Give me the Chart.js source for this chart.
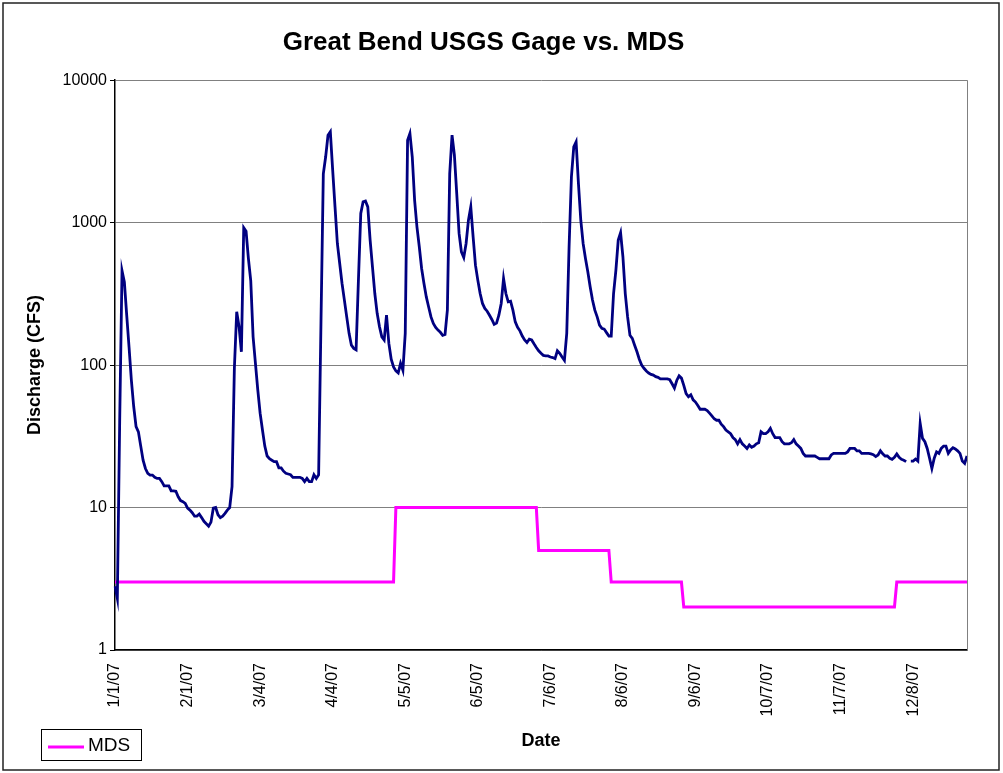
<!DOCTYPE html>
<html>
<head>
<meta charset="utf-8">
<title>Great Bend USGS Gage vs. MDS</title>
<script src="https://cdn.jsdelivr.net/npm/chart.js@4.4.1/dist/chart.umd.min.js"></script>
<style>
  html, body { margin: 0; padding: 0; background: #fff; }
  #wrap { width: 1003px; height: 773px; position: relative; }
</style>
</head>
<body>
<div id="wrap"><canvas id="flowChart"></canvas></div>
<script>
// Daily discharge (CFS) at the Great Bend gage, 2007, one array per month
const jan = [2.8, 2.3, 40, 460, 384, 224, 134, 78, 51, 37, 34, 27, 21.5, 18.8, 17.4, 16.9, 16.9, 16.3, 16, 16, 15.2, 14.2, 14.2, 14.2, 13.1, 13.1, 13, 11.9, 11.2, 11, 10.7];
const feb = [9.9, 9.6, 9.2, 8.7, 8.7, 9.0, 8.5, 8.0, 7.7, 7.4, 7.9, 9.9, 10, 8.9, 8.5, 8.7, 9.1, 9.6, 10, 14, 95, 237, 186, 124, 920, 870, 560, 390];
const mar = [158, 103, 67, 46, 35, 27, 23, 22, 21.5, 21, 21, 19, 19, 18, 17.4, 17.2, 17, 16.3, 16.3, 16.3, 16.3, 16, 15.2, 16, 15.2, 15.2, 17, 16, 17, 200, 2200];
const apr = [2900, 4100, 4340, 2340, 1290, 714, 517, 374, 286, 218, 167, 138, 131, 128, 395, 1160, 1400, 1420, 1290, 754, 490, 318, 231, 186, 158, 150, 224, 142, 110, 97];
const may = [91, 88, 103, 92, 167, 3790, 4230, 2900, 1440, 935, 677, 477, 374, 301, 256, 218, 196, 184, 176, 170, 162, 164, 243, 2210, 4110, 2980, 1600, 840, 624, 570, 714];
const jun = [1040, 1290, 795, 503, 395, 318, 271, 250, 239, 224, 209, 193, 197, 224, 271, 405, 318, 278, 281, 243, 201, 184, 174, 160, 150, 144, 152, 150, 141, 133];
const jul = [126, 121, 117, 116, 116, 114, 113, 111, 126, 121, 114, 108, 167, 677, 2100, 3400, 3690, 1880, 1040, 714, 561, 452, 355, 286, 243, 218, 191, 181, 179, 169, 160];
const aug = [160, 318, 464, 754, 849, 575, 318, 218, 162, 154, 138, 124, 110, 100, 95, 91, 88, 86, 85, 83, 82, 80, 80, 80, 80, 79, 74, 69, 78, 84, 81];
const sep = [72, 63, 60, 62, 57, 55, 52, 49, 49, 49, 48, 46, 44, 42, 41, 41, 38.5, 37, 35, 34, 33, 31, 30, 28, 30, 28, 27, 26, 27.5, 26.5];
const oct = [27, 28, 28.5, 34, 33, 33, 34, 36, 33, 31, 31, 31, 29, 28, 28, 28, 28.5, 30, 28, 27, 26, 24, 23, 23, 23, 23, 23, 22.5, 22, 22, 22];
const nov = [22, 22, 23.4, 24, 24, 24, 24, 24, 24, 24.6, 26, 26, 26, 25, 25, 24, 24, 24, 24, 23.8, 23.5, 22.8, 23.4, 25, 23.8, 23, 23, 22.2, 21.8, 22.5];
const dec = [23.8, 22.5, 21.8, 21.5, 21, null, 21.2, 21.2, 21.9, 21.2, 39, 30.6, 29, 26, 22.2, 18.8, 22.2, 24.6, 24, 26, 27, 27, 24, 25.4, 26.3, 25.8, 25, 24, 21.2, 20.4, 23];

// Minimum desirable streamflow, set month by month
const mdsByMonth = [3, 3, 3, 3, 10, 10, 5, 3, 2, 2, 2, 3];
const daysInMonth = [31, 28, 31, 30, 31, 30, 31, 31, 30, 31, 30, 31];

const yTicks = [1, 10, 100, 1000, 10000];
const labelEvery = 31;

const gageFlow = [].concat(jan, feb, mar, apr, may, jun, jul, aug, sep, oct, nov, dec);

// category labels m/d/07 and the MDS step line
const dateLabels = [];
const mdsFlow = [];
daysInMonth.forEach((n, m) => {
    for (let d = 1; d <= n; d++) {
        dateLabels.push(`${m + 1}/${d}/07`);
        mdsFlow.push(mdsByMonth[m]);
    }
});

const FONT = "'Liberation Sans', Arial, sans-serif";

// frame, plot border and the little MDS legend box
const framePlugin = {
    id: 'frame',
    afterDraw(chart) {
        const ctx = chart.ctx;
        const a = chart.chartArea;
        ctx.save();
        ctx.strokeStyle = '#808080';
        ctx.lineWidth = 1;
        ctx.beginPath();
        ctx.moveTo(Math.round(a.right) + 0.5, a.top);
        ctx.lineTo(Math.round(a.right) + 0.5, a.bottom);
        ctx.stroke();

        ctx.strokeStyle = '#222';
        ctx.lineWidth = 1.5;
        ctx.strokeRect(3, 3, 996, 767);

        // legend
        ctx.strokeStyle = '#000';
        ctx.lineWidth = 1;
        ctx.strokeRect(41.5, 729.5, 100, 31);
        ctx.strokeStyle = '#FF00FF';
        ctx.lineWidth = 3;
        ctx.beginPath();
        ctx.moveTo(48, 747);
        ctx.lineTo(84, 747);
        ctx.stroke();
        ctx.fillStyle = '#000';
        ctx.font = `19px ${FONT}`;
        ctx.textBaseline = 'middle';
        ctx.textAlign = 'left';
        ctx.fillText('MDS', 88, 746);
        ctx.restore();
    }
};

const ctx = document.getElementById('flowChart').getContext('2d');
const flowChart = new Chart(ctx, {
    type: 'line',
    data: {
        labels: dateLabels,
        datasets: [{
            label: 'Great Bend USGS Gage',
            data: gageFlow,
            borderColor: '#000080',
            borderWidth: 2.8,
            pointRadius: 0,
            tension: 0,
            spanGaps: false,
            fill: false
        }, {
            label: 'MDS',
            data: mdsFlow,
            borderColor: '#FF00FF',
            borderWidth: 3,
            pointRadius: 0,
            tension: 0,
            fill: false
        }]
    },
    options: {
        responsive: true,
        maintainAspectRatio: false,
        animation: false,
        layout: { padding: { left: 0, right: 36, top: 0, bottom: 0 } },
        scales: {
            x: {
                type: 'category',
                afterFit: (s) => { s.height = 123; },
                grid: { display: false, drawTicks: false },
                border: { color: '#000', width: 1.5 },
                ticks: {
                    autoSkip: false,
                    minRotation: 90,
                    maxRotation: 90,
                    padding: 13,
                    color: '#000',
                    font: { family: FONT, size: 16 },
                    callback: (v, i) => (i % labelEvery === 0 ? dateLabels[i] : null)
                },
                title: {
                    display: true,
                    text: 'Date',
                    color: '#000',
                    font: { family: FONT, size: 18, weight: 'bold' },
                    padding: { top: 0, bottom: 21 }
                }
            },
            y: {
                type: 'logarithmic',
                min: 1,
                max: 10000,
                afterBuildTicks: (s) => { s.ticks = yTicks.map(v => ({ value: v })); },
                afterFit: (s) => { s.width = 115; },
                grid: { color: '#808080', lineWidth: 1, tickLength: 5, tickColor: '#000' },
                border: { color: '#000', width: 1.5 },
                ticks: {
                    color: '#000',
                    padding: 3,
                    font: { family: FONT, size: 16 },
                    callback: (v) => String(v)
                },
                title: {
                    display: true,
                    text: 'Discharge (CFS)',
                    color: '#000',
                    font: { family: FONT, size: 18, weight: 'bold' },
                    padding: { top: 24, bottom: 0 }
                }
            }
        },
        plugins: {
            legend: { display: false },
            tooltip: { enabled: false },
            title: {
                display: true,
                text: 'Great Bend USGS Gage vs. MDS',
                color: '#000',
                font: { family: FONT, size: 26, weight: 'bold' },
                padding: { top: 27, bottom: 22 }
            }
        }
    },
    plugins: [framePlugin]
});
</script>
</body>
</html>
